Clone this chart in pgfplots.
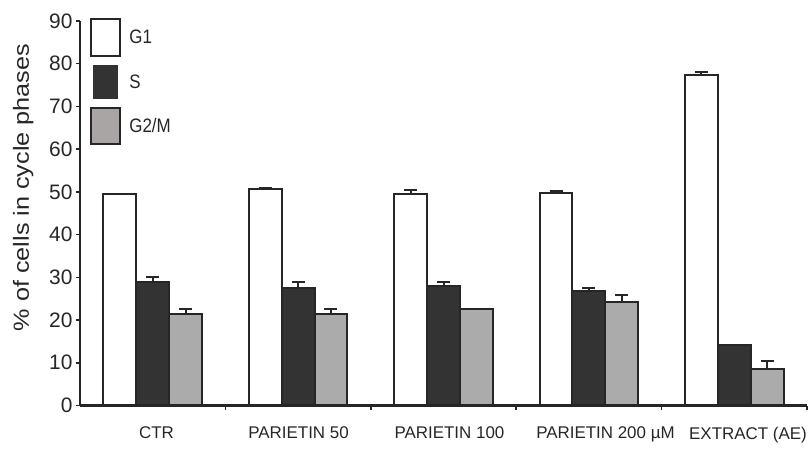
\documentclass[border=0pt]{standalone}
\usepackage{pgfplots}
\pgfplotsset{compat=1.18}
\usepackage{fontspec}
\setmainfont{Liberation Sans}
\definecolor{bdr}{HTML}{262626}
\definecolor{sbar}{HTML}{333333}
\definecolor{gbar}{HTML}{AAABAA}
\definecolor{glegend}{HTML}{A9A5A5}
\newcommand{\legtext}[1]{\scalebox{1}[1.15]{#1}}
\begin{document}
\begin{tikzpicture}
  \useasboundingbox (-80bp,-50.5bp) rectangle (728bp,405.5bp);
  \begin{axis}[
      scale only axis,
      width=727bp,
      height=384.5bp,
      xmin=0, xmax=5,
      ymin=0, ymax=90,
      axis x line*=bottom,
      axis y line*=left,
      axis line style={-, line width=2bp, color=bdr},
      tick align=outside,
      tick style={line width=1.5bp, color=bdr},
      ytick={0,10,...,90},
      major tick length=4bp,
      xtick={0.526,1.503,2.541,3.614,4.594},
      xticklabels={CTR, PARIETIN 50, PARIETIN 100, PARIETIN 200 µM, EXTRACT (AE)},
      x tick style={draw=none},
      minor xtick={1,2,3,4,5},
      minor x tick style={draw=bdr, line width=1.5bp},
      minor tick length=4bp,
      xticklabel style={font=\fontsize{17}{17}\selectfont, text=bdr, yshift=-14bp},
      yticklabel style={font=\fontsize{21}{21}\selectfont, text=bdr},
      /pgf/number format/assume math mode=true,
      ylabel={\scalebox{1.15}[1]{\% of cells in cycle phases}},
      ylabel style={font=\fontsize{22}{22}\selectfont, text=bdr,
        at={(axis description cs:-0.078,0.567)}, anchor=center},
      ybar,
      bar width=0.226,
      legend style={at={(rel axis cs:0,1)}, anchor=north west,
        xshift=10bp, yshift=3bp, draw=none, fill=none, inner sep=0pt,
        row sep=8bp, font=\fontsize{17}{17}\selectfont, text=bdr,
        nodes={inner sep=2bp}},
      legend cell align=left,
      error bars/y dir=plus,
      error bars/y explicit,
      error bars/error bar style={line width=2bp, color=bdr},
      error bars/error mark options={rotate=90, line width=2bp, color=bdr, mark size=6.5bp},
    ]
    \addlegendimage{legend image code/.code={\draw[fill=white, draw=bdr, line width=2bp] (0bp,-18.5bp) rectangle (29bp,18.5bp); \path (33bp,0bp);}}
    \addlegendentry{\legtext{G1}}
    \addlegendimage{legend image code/.code={\draw[fill=sbar, draw=sbar, line width=1bp] (2bp,-16.5bp) rectangle (26.5bp,16.5bp); \path (36bp,0bp);}}
    \addlegendentry{\legtext{S}}
    \addlegendimage{legend image code/.code={\draw[fill=glegend, draw=bdr, line width=2bp] (0bp,-18bp) rectangle (29bp,18bp); \path (36bp,0bp);}}
    \addlegendentry{\legtext{G2/M}}

    % G1
    \addplot[forget plot, fill=white, draw=bdr, line width=2bp, bar shift=-0.226]
      coordinates {
        (0.5,49.5) +- (0,0)
        (1.5,50.7) +- (0,0.15)
        (2.5,49.5) +- (0,1.0)
        (3.5,49.7) +- (0,0.4)
        (4.5,77.4) +- (0,0.6)
      };
    % S
    \addplot[forget plot, fill=sbar, draw=bdr, line width=2bp, bar shift=0]
      coordinates {
        (0.5,28.9) +- (0,1.2)
        (1.5,27.5) +- (0,1.4)
        (2.5,27.9) +- (0,1.0)
        (3.5,26.9) +- (0,0.5)
        (4.5,14.2) +- (0,0)
      };
    % G2/M
    \addplot[forget plot, fill=gbar, draw=bdr, line width=2bp, bar shift=0.226]
      coordinates {
        (0.5,21.5) +- (0,1.2)
        (1.5,21.5) +- (0,1.2)
        (2.5,22.6) +- (0,0)
        (3.5,24.3) +- (0,1.5)
        (4.5,8.5) +- (0,2.0)
      };
  \end{axis}
\end{tikzpicture}
\end{document}
